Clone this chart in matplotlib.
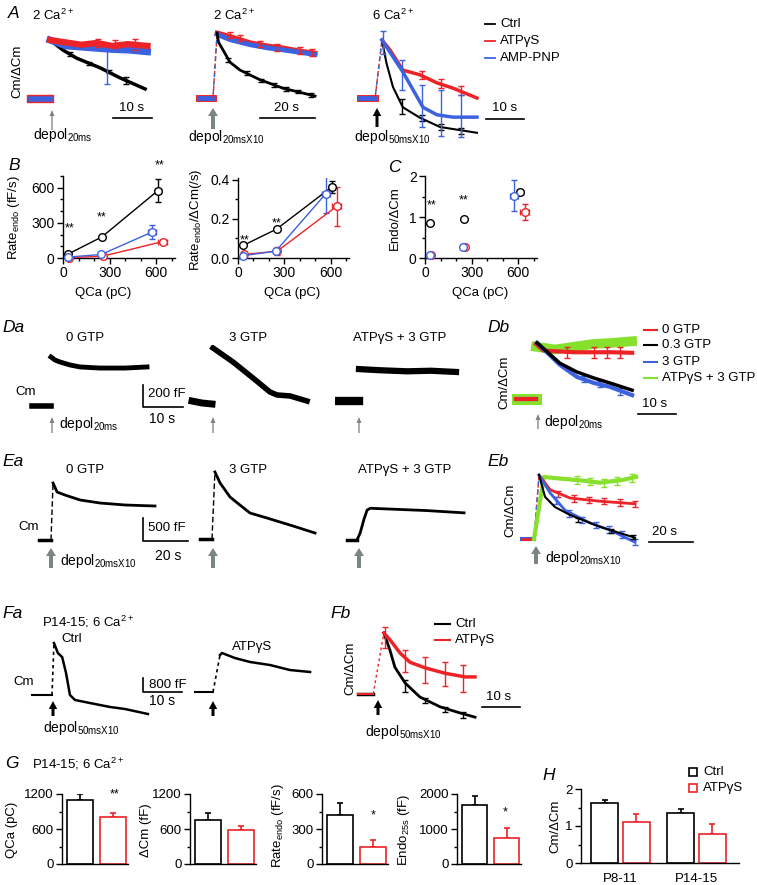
import matplotlib
matplotlib.use('Agg')
import matplotlib.pyplot as plt
from matplotlib.patches import Rectangle
from matplotlib.ticker import MultipleLocator

plt.rcParams['font.family'] = ['Liberation Sans', 'DejaVu Sans']
plt.rcParams['mathtext.default'] = 'regular'
plt.rcParams['font.size'] = 9.5
plt.rcParams['axes.linewidth'] = 1.0

W, H = 757, 885
RED = '#ec2327'
BLUE = '#3d62e0'
GREEN = '#86e02c'
GRAY = '#7b8584'

# ---------------- data (time in s, Cm in fF or normalised Cm/dCm) ----------------
# A1: 2 Ca, depol 20 ms
a1_t_ctrl = [0, 3.3, 6.9, 12.8, 17.9, 24.4]
a1_v_ctrl = [1.0, 0.83, 0.69, 0.53, 0.36, 0.17]
a1_t_atp = [0, 4, 8, 12, 16, 20, 25]
a1_v_atp = [1.0, 0.96, 0.92, 0.95, 0.9, 0.93, 0.9]
a1_t_amp = [0, 4, 8, 12, 16, 20, 25]
a1_v_amp = [1.0, 0.9, 0.88, 0.86, 0.84, 0.83, 0.8]
a1_err_ctrl = ([5, 10, 15, 19.5], [0.76, 0.6, 0.47, 0.32], [0.03, 0.03, 0.03, 0.06])
a1_err_atp = ([12.3, 16.7, 21.8], [0.95, 0.93, 0.92], [0.07, 0.07, 0.09])
a1_err_amp = ([14.6], [0.85], [0.6])

# A2: 2 Ca, depol 20 ms x10
a2_t_ctrl = [1.5, 2.0, 6.2, 9.8, 17.1, 25.5, 37.1]
a2_v_ctrl = [1.0, 0.86, 0.55, 0.43, 0.28, 0.15, 0.03]
a2_t_atp = [1.5, 6, 13.5, 20, 25.5, 32, 37.1]
a2_v_atp = [1.0, 0.95, 0.85, 0.8, 0.77, 0.72, 0.69]
a2_t_amp = [1.5, 6, 13.5, 20, 25.5, 32, 37.1]
a2_v_amp = [0.98, 0.9, 0.82, 0.77, 0.74, 0.7, 0.67]
a2_err_ctrl = ([5.5, 12.4, 17.5, 22.2, 26.5, 30.9, 35.6],
               [0.58, 0.38, 0.27, 0.2, 0.14, 0.1, 0.05], [0.03] * 7)
a2_err_atp = ([6.2, 9.8, 17.1, 23.3, 31.6, 36],
              [0.97, 0.92, 0.83, 0.78, 0.73, 0.7], [0.05] * 6)

# A3: 6 Ca, depol 50 ms x10
a3_t_ctrl = [1.3, 2.5, 4.2, 6.8, 11.3, 16.6, 26.3]
a3_v_ctrl = [1.0, 0.6, 0.19, -0.16, -0.34, -0.5, -0.6]
a3_t_atp = [1.3, 3.4, 6.8, 11.3, 15.8, 20, 26.3]
a3_v_atp = [1.0, 0.83, 0.48, 0.40, 0.26, 0.17, 0.0]
a3_t_amp = [1.3, 4.2, 6.8, 9.5, 12.1, 15.8, 20, 26.3]
a3_v_amp = [1.0, 0.71, 0.45, 0.14, -0.16, -0.29, -0.33, -0.33]
a3_err_ctrl = ([6.6, 11.8, 16.8, 22], [-0.14, -0.34, -0.5, -0.57], [0.13, 0.05, 0.05, 0.05])
a3_err_atp = ([11.8, 16.8, 22], [0.4, 0.25, 0.13], [0.07, 0.07, 0.07])
a3_err_amp = ([1.6, 6.6, 11.8, 16.8, 22], [0.95, 0.4, -0.14, -0.26, -0.31],
              [0.2, 0.26, 0.36, 0.4, 0.36])

# B / C: summary vs QCa (pC)
qca_ctrl = [35, 250, 610]
qca_atp = [40, 255, 640]
qca_amp = [35, 245, 570]
qca_xerr_ctrl = [0, 0, 20]
qca_xerr_atp = [0, 10, 30]
qca_xerr_amp = [0, 0, 25]
rate_ctrl = [35, 180, 575]
rate_atp = [3, 15, 140]
rate_amp = [8, 30, 220]
rate_err_ctrl = [0, 0, 100]
rate_err_atp = [0, 0, 15]
rate_err_amp = [0, 0, 60]
nrate_ctrl = [0.065, 0.148, 0.365]
nrate_atp = [0.018, 0.035, 0.265]
nrate_amp = [0.012, 0.035, 0.33]
nrate_err_ctrl = [0, 0, 0.03]
nrate_err_atp = [0, 0.02, 0.1]
nrate_err_amp = [0, 0, 0.1]
endo_ctrl = [0.85, 0.95, 1.62]
endo_atp = [0.07, 0.27, 1.12]
endo_amp = [0.07, 0.27, 1.52]
endo_err_ctrl = [0, 0, 0]
endo_err_atp = [0, 0, 0.2]
endo_err_amp = [0, 0, 0.38]

# Da: depol 20 ms, Cm in fF
da1_t = [0, 1, 2.25, 4.75, 7.25, 12.25, 18.5, 24]
da1_v = [445, 418, 400, 373, 355, 345, 345, 355]
da2_base_t = [-5, -2.5, 0]
da2_base_v = [18, 0, -9]
da2_t = [0.25, 5.25, 10.25, 14.5, 16.25, 19.5, 23.75]
da2_v = [500, 373, 227, 100, 73, 64, 18]
da3_t = [0, 5, 12, 18, 24.25]
da3_v = [290, 280, 270, 275, 264]

# Db: normalised
db_t_0gtp = [0, 2, 10, 20, 25.3]
db_v_0gtp = [1.0, 0.88, 0.85, 0.85, 0.84]
db_t_03gtp = [0.3, 6.3, 10.8, 15.3, 19.5, 25.3]
db_v_03gtp = [1.02, 0.65, 0.49, 0.38, 0.29, 0.16]
db_t_3gtp = [0.3, 6.3, 10.8, 15.3, 19.5, 25.3]
db_v_3gtp = [1.02, 0.62, 0.4, 0.29, 0.22, 0.07]
db_t_atp = [0, 5, 10, 15, 20, 25.3]
db_v_atp = [0.95, 0.9, 0.95, 1.0, 1.02, 1.05]
db_err_0gtp = ([8.2, 15.3, 18.7, 22.1], [0.85, 0.85, 0.85, 0.84], [0.1] * 4)
db_err_3gtp = ([12.6, 16.8, 22.1], [0.36, 0.27, 0.14], [0.06] * 3)

# Ea: depol 20 ms x10, Cm in fF
ea1_t = [0.9, 2.7, 6.2, 12.9, 21.8, 32.9, 46.2]
ea1_v = [1239, 1043, 978, 870, 804, 761, 739]
ea2_t = [1.3, 3.6, 8, 12.4, 16.9, 24.4, 36, 45.8]
ea2_v = [1457, 1217, 913, 739, 565, 457, 283, 130]
ea3_t = [-0.9, 0.5, 2.2, 3.6, 5, 15, 30, 46.7]
ea3_v = [0, 150, 450, 650, 690, 670, 640, 590]

# Eb: normalised
eb_t_0gtp = [2.3, 7.3, 16.4, 30, 45.9]
eb_v_0gtp = [1.0, 0.77, 0.64, 0.59, 0.55]
eb_t_03gtp = [2.3, 5, 9.5, 16.4, 30, 45.9]
eb_v_03gtp = [1.0, 0.66, 0.5, 0.375, 0.19, 0.02]
eb_t_3gtp = [2.3, 7.3, 14.1, 25.5, 34.5, 45.9]
eb_v_3gtp = [1.0, 0.72, 0.45, 0.25, 0.14, -0.05]
eb_t_atp = [0, 4.5, 10, 20, 30, 40, 46.4]
eb_v_atp = [0, 0.97, 0.95, 0.92, 0.88, 0.92, 0.97]
eb_err_0gtp = ([11, 18, 25, 32, 39, 45.9], [0.7, 0.63, 0.61, 0.59, 0.57, 0.55], [0.05] * 6)
eb_err_03gtp = ([20, 35, 45], [0.3, 0.12, 0.03], [0.03] * 3)
eb_err_3gtp = ([10, 16, 22, 28, 34, 40, 45.9], [0.6, 0.4, 0.3, 0.22, 0.15, 0.07, -0.05], [0.05] * 7)
eb_err_atp = ([19.5, 25.5, 31.8, 37.7, 44.5], [0.92, 0.9, 0.88, 0.91, 0.95], [0.06] * 5)

# Fa: P14-15, 6 Ca, depol 50 ms x10, Cm in fF
fa1_t = [0.5, 1.5, 2.6, 3.6, 4.6, 5.9, 9.7, 14.9, 18.7, 24.6]
fa1_v = [2971, 2400, 2171, 1257, 0, -286, -457, -686, -800, -1086]
fa2_t = [1.8, 2.3, 5.6, 9.5, 14.6, 19.7, 24.9]
fa2_v = [2114, 2229, 1943, 1714, 1543, 1257, 1143]

# Fb: normalised
fb_t_ctrl = [1.8, 3.4, 4.7, 7.4, 11.3, 16.6, 21.8, 25.8]
fb_v_ctrl = [1.0, 0.72, 0.44, 0.18, -0.05, -0.21, -0.31, -0.38]
fb_t_atp = [1.8, 3.4, 6.1, 8.7, 12.6, 17.9, 23.2, 25.8]
fb_v_atp = [1.0, 0.89, 0.67, 0.52, 0.43, 0.34, 0.28, 0.28]
fb_err_ctrl = ([7.4, 12.6, 17.9, 22.6], [0.13, -0.1, -0.25, -0.35], [0.1, 0.04, 0.04, 0.05])
fb_err_atp = ([2, 7.4, 12.6, 17.9, 22.6], [0.93, 0.54, 0.39, 0.33, 0.26], [0.17, 0.18, 0.21, 0.2, 0.22])

# G / H bars: [Ctrl, ATPgS]
g_qca = [1100, 810]
g_qca_err = [100, 60]
g_dcm = [760, 590]
g_dcm_err = [110, 60]
g_rate = [420, 150]
g_rate_err = [100, 55]
g_endo = [1700, 750]
g_endo_err = [250, 270]
h_groups = ['P8-11', 'P14-15']
h_ctrl = [1.62, 1.35]
h_ctrl_err = [0.08, 0.1]
h_atp = [1.1, 0.78]
h_atp_err = [0.22, 0.27]

# ---------------- figure helpers ----------------
fig = plt.figure(figsize=(W / 100, H / 100), dpi=100)
ov = fig.add_axes([0, 0, 1, 1], zorder=5)
ov.set_xlim(0, W)
ov.set_ylim(H, 0)
ov.axis('off')


def px_axes(l, t, w, h):
    return fig.add_axes([l / W, 1 - (t + h) / H, w / W, h / H])


def trace_axes(box, origin, sx, sy):
    l, t, w, h = box
    ox, oy = origin
    ax = px_axes(l, t, w, h)
    ax.set_xlim((l - ox) / sx, (l + w - ox) / sx)
    ax.set_ylim((oy - t - h) / sy, (oy - t) / sy)
    ax.axis('off')
    return ax


def txt(x, y, s, size=9.5, ha='left', va='center', **kw):
    ov.text(x, y, s, fontsize=size, ha=ha, va=va, **kw)


def label(x, y, s):
    txt(x, y, s, size=12.5, style='italic')


def arrow(x, y0, y1, kind):
    if kind == 'thin':
        ov.arrow(x, y0, 0, y1 - y0, width=1.3, head_width=5, head_length=6,
                 length_includes_head=True, color=GRAY, lw=0)
    elif kind == 'gray':
        ov.arrow(x, y0, 0, y1 - y0, width=4, head_width=10, head_length=8,
                 length_includes_head=True, color=GRAY, lw=0)
    else:
        ov.arrow(x, y0, 0, y1 - y0, width=3, head_width=8.5, head_length=8,
                 length_includes_head=True, color='black', lw=0)


def hbar(x0, x1, y):
    ov.plot([x0, x1], [y, y], color='black', lw=1.2)


def lbar(x, y0, y1, x1):
    ov.plot([x, x, x1], [y0, y1, y1], color='black', lw=1.2)


def errs(ax, e, c, down=False):
    yerr = [e[2], [0] * len(e[2])] if down else e[2]
    ax.errorbar(e[0], e[1], yerr=yerr, fmt='none', ecolor=c, elinewidth=1,
                capsize=2, capthick=1)


def style_ax(ax, size=10):
    for s in ['top', 'right']:
        ax.spines[s].set_visible(False)
    ax.tick_params(direction='out', length=4, width=1, labelsize=size, pad=2)
    ax.tick_params(which='minor', direction='out', length=2.5, width=1)


# ---------------- A ----------------
label(8, 14, 'A')
txt(17, 71, 'Cm/ΔCm', rotation=90, ha='center')

ax = trace_axes((25, 25, 135, 85), (50, 99), 3.9, 59)
ax.plot([-5, 0], [0, 0], color=RED, lw=6)
ax.plot([-5, 0], [0, 0], color=BLUE, lw=4)
ax.plot(a1_t_ctrl, a1_v_ctrl, color='black', lw=2.5)
errs(ax, a1_err_ctrl, 'black')
ax.plot(a1_t_amp, a1_v_amp, color=BLUE, lw=5)
errs(ax, a1_err_amp, BLUE, down=True)
ax.plot(a1_t_atp, a1_v_atp, color=RED, lw=4.5)
errs(ax, a1_err_atp, RED)
txt(32, 15, '2 Ca$^{2+}$')
arrow(52, 130, 110, 'thin')
txt(33, 135, 'depol$_{20ms}$', size=10)
hbar(113, 152, 118)
txt(132, 108, '10 s', ha='center')

ax = trace_axes((195, 25, 125, 85), (213, 98), 2.75, 65)
ax.plot([-5, 0], [0, 0], color=RED, lw=5)
ax.plot([-5, 0], [0, 0], color=BLUE, lw=3.5)
ax.plot([0, 1.5], [0, 1.0], color=RED, lw=1, ls='--')
ax.plot([0, 1.5], [0, 1.0], color=BLUE, lw=1, ls=(3, (3, 3)))
ax.plot(a2_t_atp, a2_v_atp, color=RED, lw=3.5)
ax.plot(a2_t_amp, a2_v_amp, color=BLUE, lw=3.5)
errs(ax, a2_err_atp, RED)
ax.plot(a2_t_ctrl, a2_v_ctrl, color='black', lw=2)
errs(ax, a2_err_ctrl, 'black')
txt(213, 15, '2 Ca$^{2+}$')
arrow(213, 129, 108, 'gray')
txt(188, 137, 'depol$_{20msX10}$', size=10)
hbar(260, 315, 118)
txt(287, 108, '20 s', ha='center')

ax = trace_axes((355, 25, 125, 120), (377, 98), 3.8, 58)
ax.plot([-4.5, -0.5], [0, 0], color=RED, lw=5)
ax.plot([-4.5, -0.5], [0, 0], color=BLUE, lw=3.5)
ax.plot([-0.5, 1.3], [0, 1.0], color=RED, lw=1, ls='--')
ax.plot([-0.5, 1.3], [0, 1.0], color=BLUE, lw=1, ls=(3, (3, 3)))
ax.plot(a3_t_ctrl, a3_v_ctrl, color='black', lw=1.5)
errs(ax, a3_err_ctrl, 'black')
ax.plot(a3_t_atp, a3_v_atp, color=RED, lw=2.5)
errs(ax, a3_err_atp, RED)
ax.plot(a3_t_amp, a3_v_amp, color=BLUE, lw=2.5)
errs(ax, a3_err_amp, BLUE)
txt(372, 15, '6 Ca$^{2+}$')
arrow(377, 127, 108, 'black')
txt(354, 137, 'depol$_{50msX10}$', size=10)
hbar(486, 524, 119)
txt(505, 108, '10 s', ha='center')

for yy, c, s in [(24, 'black', 'Ctrl'), (41, RED, 'ATPγS'), (58, BLUE, 'AMP-PNP')]:
    ov.plot([485, 495], [yy, yy], color=c, lw=1.3)
    txt(500, yy, s)

# ---------------- B ----------------
label(8, 166, 'B')
label(388, 168, 'C')


def summary(ax, xs, ys, xe, ye, c, line=True):
    for x, y, a, b in zip(xs, ys, xe, ye):
        if a or b:
            ax.errorbar(x, y, xerr=a or None, yerr=b or None, fmt='none', ecolor=c,
                        elinewidth=1, capsize=2, capthick=1, zorder=2)
    ax.plot(xs, ys, '-o' if line else 'o', color=c, mfc='white', mec=c, ms=5.5,
            mew=1, lw=1, zorder=3, clip_on=False)


ax = px_axes(63, 176, 112, 82)
summary(ax, qca_ctrl, rate_ctrl, qca_xerr_ctrl, rate_err_ctrl, 'black')
summary(ax, qca_atp, rate_atp, qca_xerr_atp, rate_err_atp, RED)
summary(ax, qca_amp, rate_amp, qca_xerr_amp, rate_err_amp, BLUE)
ax.set_xlim(0, 720)
ax.set_ylim(0, 700)
ax.set_xticks([0, 300, 600])
ax.set_yticks([0, 300, 600])
ax.xaxis.set_minor_locator(MultipleLocator(100))
ax.yaxis.set_minor_locator(MultipleLocator(100))
style_ax(ax)
for x, y in [(40, 255), (250, 350), (620, 790)]:
    ax.text(x, y, '**', ha='center', va='center', fontsize=9, clip_on=False)
txt(14, 218, 'Rate$_{endo}$ (fF/s)', rotation=90, ha='center')
txt(103, 293, 'QCa (pC)', ha='center')

ax = px_axes(238, 178, 111, 80)
summary(ax, qca_ctrl, nrate_ctrl, qca_xerr_ctrl, nrate_err_ctrl, 'black')
summary(ax, qca_atp, nrate_atp, qca_xerr_atp, nrate_err_atp, RED)
summary(ax, qca_amp, nrate_amp, qca_xerr_amp, nrate_err_amp, BLUE)
ax.set_xlim(0, 720)
ax.set_ylim(0, 0.41)
ax.set_xticks([0, 300, 600])
ax.set_yticks([0, 0.2, 0.4])
ax.set_yticklabels(['0.0', '0.2', '0.4'])
ax.xaxis.set_minor_locator(MultipleLocator(100))
ax.yaxis.set_minor_locator(MultipleLocator(0.1))
style_ax(ax)
for x, y in [(40, 0.09), (250, 0.175)]:
    ax.text(x, y, '**', ha='center', va='center', fontsize=9)
txt(196, 220, 'Rate$_{endo}$/ΔCm(/s)', rotation=90, ha='center')
txt(292, 293, 'QCa (pC)', ha='center')

ax = px_axes(425, 176, 112, 82)
summary(ax, qca_ctrl, endo_ctrl, qca_xerr_ctrl, endo_err_ctrl, 'black', False)
summary(ax, qca_atp, endo_atp, qca_xerr_atp, endo_err_atp, RED, False)
summary(ax, qca_amp, endo_amp, qca_xerr_amp, endo_err_amp, BLUE, False)
ax.set_xlim(0, 720)
ax.set_ylim(0, 2)
ax.set_xticks([0, 300, 600])
ax.set_yticks([0, 1, 2])
ax.xaxis.set_minor_locator(MultipleLocator(100))
ax.yaxis.set_minor_locator(MultipleLocator(0.5))
style_ax(ax)
for x, y in [(40, 1.28), (250, 1.4)]:
    ax.text(x, y, '**', ha='center', va='center', fontsize=9)
txt(395, 218, 'Endo/ΔCm', rotation=90, ha='center')
txt(480, 293, 'QCa (pC)', ha='center')

# ---------------- Da / Db ----------------
label(2, 327, 'Da')
for x, s in [(85, '0 GTP'), (248, '3 GTP'), (400, 'ATPγS + 3 GTP')]:
    txt(x, 338, s, ha='center')
txt(15, 392, 'Cm', size=9.5)

ax = trace_axes((28, 345, 125, 70), (51, 406), 4.0, 0.11)
ax.plot([-4.75, 0], [0, 0], color='black', lw=4)
ax.plot(da1_t, da1_v, color='black', lw=3.5)
ax = trace_axes((188, 345, 125, 70), (212, 403), 4.0, 0.11)
ax.plot(da2_base_t, da2_base_v, color='black', lw=5)
ax.plot(da2_t, da2_v, color='black', lw=4)
ax = trace_axes((335, 345, 125, 70), (359, 401), 4.0, 0.11)
ax.plot([-5, 0], [0, 0], color='black', lw=6)
ax.plot(da3_t, da3_v, color='black', lw=4.5)
for x in [52, 213, 359]:
    arrow(x, 433, 417, 'thin')
txt(59, 424, 'depol$_{20ms}$', size=10)
lbar(143, 385, 407, 183)
txt(148, 394, '200 fF')
txt(149, 419, '10 s', size=10)

label(487, 327, 'Db')
txt(504, 382, 'Cm/ΔCm', rotation=90, ha='center')
ax = trace_axes((512, 330, 125, 80), (536, 399), 3.8, 55)
ax.plot([-5.3, 0], [0, 0], color=GREEN, lw=8)
ax.plot([-5.3, 0], [0, 0], color=BLUE, lw=3)
ax.plot([-5.3, 0], [0, 0], color=RED, lw=3)
ax.plot(db_t_atp, db_v_atp, color=GREEN, lw=7)
ax.plot(db_t_0gtp, db_v_0gtp, color=RED, lw=3)
errs(ax, db_err_0gtp, RED)
ax.plot(db_t_3gtp, db_v_3gtp, color=BLUE, lw=3)
errs(ax, db_err_3gtp, BLUE)
ax.plot(db_t_03gtp, db_v_03gtp, color='black', lw=2.5)
arrow(538, 429, 414, 'thin')
txt(544, 422, 'depol$_{20ms}$', size=10)
hbar(638, 676, 414)
txt(655, 404, '10 s', ha='center')
for yy, c, s in [(330, RED, '0 GTP'), (345, 'black', '0.3 GTP'),
                 (362, BLUE, '3 GTP'), (378, GREEN, 'ATPγS + 3 GTP')]:
    ov.plot([644, 657], [yy, yy], color=c, lw=1.5)
    txt(662, yy, s)

# ---------------- Ea / Eb ----------------
label(2, 462, 'Ea')
for x, s in [(85, '0 GTP'), (248, '3 GTP'), (405, 'ATPγS + 3 GTP')]:
    txt(x, 470, s, ha='center')
txt(18, 527, 'Cm', size=9.5)

ax = trace_axes((35, 470, 125, 80), (51, 540), 2.25, 0.046)
ax.plot([-5.3, 0], [0, 0], color='black', lw=2.5)
ax.plot([0, ea1_t[0]], [0, ea1_v[0]], color='black', lw=1, ls=(0, (4, 2)))
ax.plot(ea1_t, ea1_v, color='black', lw=2)
ax = trace_axes((195, 465, 125, 85), (212, 539), 2.25, 0.046)
ax.plot([-5.3, 0], [0, 0], color='black', lw=2.5)
ax.plot([0, ea2_t[0]], [0, ea2_v[0]], color='black', lw=1, ls=(0, (4, 2)))
ax.plot(ea2_t, ea2_v, color='black', lw=2)
ax = trace_axes((343, 490, 125, 60), (359, 540), 2.25, 0.046)
ax.plot([-5.3, -0.9], [0, 0], color='black', lw=2.5)
ax.plot(ea3_t, ea3_v, color='black', lw=2)
for x in [51, 213, 359]:
    arrow(x, 568, 548, 'gray')
txt(60, 561, 'depol$_{20msX10}$', size=10)
lbar(143, 518, 541, 188)
txt(148, 528, '500 fF')
txt(155, 556, '20 s', size=10)

label(487, 462, 'Eb')
txt(510, 510, 'Cm/ΔCm', rotation=90, ha='center')
ax = trace_axes((518, 465, 122, 85), (534, 539), 2.2, 64)
ax.plot([-5.5, 0], [0, 0], color=BLUE, lw=3)
ax.plot([-5.5, 0], [0, 0], color=RED, lw=2)
for c, ls in [(RED, '--'), (BLUE, (3, (3, 3)))]:
    ax.plot([0, 2.3], [0, 1.0], color=c, lw=1, ls=ls)
ax.plot(eb_t_atp, eb_v_atp, color=GREEN, lw=3)
errs(ax, eb_err_atp, GREEN)
ax.plot(eb_t_0gtp, eb_v_0gtp, color=RED, lw=2)
errs(ax, eb_err_0gtp, RED)
ax.plot(eb_t_3gtp, eb_v_3gtp, color=BLUE, lw=2)
errs(ax, eb_err_3gtp, BLUE)
ax.plot(eb_t_03gtp, eb_v_03gtp, color='black', lw=1.5)
errs(ax, eb_err_03gtp, 'black')
arrow(536, 564, 546, 'gray')
txt(545, 558, 'depol$_{20msX10}$', size=10)
hbar(649, 693, 542)
txt(665, 532, '20 s', ha='center')

# ---------------- Fa / Fb ----------------
label(2, 613, 'Fa')
txt(42, 622, 'P14-15; 6 Ca$^{2+}$')
txt(72, 639, 'Ctrl', ha='center')
txt(252, 647, 'ATPγS', ha='center')
txt(13, 682, 'Cm', size=9.5)

ax = trace_axes((28, 630, 125, 90), (52, 695), 3.9, 0.0175)
ax.plot([-5.1, 0], [0, 0], color='black', lw=1.5)
ax.plot([0, fa1_t[0]], [0, fa1_v[0]], color='black', lw=1.2, ls=(0, (2, 2)))
ax.plot(fa1_t, fa1_v, color='black', lw=1.8)
ax = trace_axes((190, 640, 125, 60), (213, 692), 3.9, 0.0175)
ax.plot([-4.6, 0], [0, 0], color='black', lw=1.5)
ax.plot([0, fa2_t[0]], [0, fa2_v[0]], color='black', lw=1.2, ls=(0, (2, 2)))
ax.plot(fa2_t, fa2_v, color='black', lw=1.8)
for x in [53, 213]:
    arrow(x, 716, 701, 'black')
txt(43, 728, 'depol$_{50msX10}$', size=10)
lbar(143, 678, 692, 182)
txt(149, 685, '800 fF')
txt(149, 701, '10 s', size=10)

label(330, 613, 'Fb')
txt(350, 668, 'Cm/ΔCm', rotation=90, ha='center')
ax = trace_axes((355, 620, 125, 105), (377, 694), 3.8, 61)
ax.plot([-5, -1], [0, 0], color='black', lw=2.5)
ax.plot([-5, -1], [0, 0], color=RED, lw=1.5)
ax.plot([-1, 1.8], [0, 1.0], color=RED, lw=1, ls=(0, (2, 2)))
ax.plot(fb_t_ctrl, fb_v_ctrl, color='black', lw=2)
errs(ax, fb_err_ctrl, 'black')
ax.plot(fb_t_atp, fb_v_atp, color=RED, lw=2.5)
errs(ax, fb_err_atp, RED)
arrow(378, 715, 700, 'black')
txt(365, 732, 'depol$_{50msX10}$', size=10)
hbar(482, 520, 707)
txt(499, 697, '10 s', ha='center')
for yy, c, s in [(624, 'black', 'Ctrl'), (640, RED, 'ATPγS')]:
    ov.plot([435, 450], [yy, yy], color=c, lw=1.5)
    txt(455, yy, s)

# ---------------- G ----------------
label(5, 763, 'G')
txt(32, 764, 'P14-15; 6 Ca$^{2+}$')


def bars(l, w, vals, err, top, major, minor):
    ax = px_axes(l, 794, w, 70)
    for i, c in enumerate(['black', RED]):
        ax.bar(i, vals[i], width=0.8, color='white', edgecolor=c, lw=1.2, zorder=2)
        ax.errorbar(i, vals[i], yerr=[[0], [err[i]]], fmt='none', ecolor=c,
                    elinewidth=1.2, capsize=2.5, capthick=1.2, zorder=1)
    ax.set_xlim(-0.55, 1.45)
    ax.set_ylim(0, top)
    ax.set_xticks([])
    ax.set_yticks(major)
    ax.yaxis.set_minor_locator(MultipleLocator(minor))
    style_ax(ax, 9.5)
    return ax


bars(62, 66, g_qca, g_qca_err, 1200, [0, 600, 1200], 300)
bars(190, 66, g_dcm, g_dcm_err, 1200, [0, 600, 1200], 300)
bars(322, 66, g_rate, g_rate_err, 600, [0, 300, 600], 150)
bars(457, 64, g_endo, g_endo_err, 2000, [0, 1000, 2000], 500)
txt(115, 794, '**', size=9, ha='center')
txt(373, 815, '*', size=9, ha='center')
txt(505, 812, '*', size=9, ha='center')
txt(12, 830, 'QCa (pC)', rotation=90, ha='center')
txt(146, 830, 'ΔCm (fF)', rotation=90, ha='center')
txt(278, 826, 'Rate$_{endo}$ (fF/s)', rotation=90, ha='center')
txt(404, 830, 'Endo$_{25s}$ (fF)', rotation=90, ha='center')

# ---------------- H ----------------
label(542, 775, 'H')
ax = px_axes(581, 789, 158, 74)
for vals, err, off, c in [(h_ctrl, h_ctrl_err, -0.21, 'black'), (h_atp, h_atp_err, 0.21, RED)]:
    pos = [i + off for i in range(len(h_groups))]
    ax.bar(pos, vals, width=0.36, color='white', edgecolor=c, lw=1.2, zorder=2)
    ax.errorbar(pos, vals, yerr=[[0] * len(vals), err], fmt='none', ecolor=c,
                elinewidth=1.2, capsize=2.5, capthick=1.2, zorder=1)
ax.set_xlim(-0.52, 1.56)
ax.set_ylim(0, 2)
ax.set_yticks([0, 1, 2])
ax.yaxis.set_minor_locator(MultipleLocator(0.5))
style_ax(ax, 9.5)
ax.set_xticks(range(len(h_groups)))
ax.set_xticklabels(h_groups)
ax.tick_params(axis='x', length=0, pad=7)
txt(555, 826, 'Cm/ΔCm', rotation=90, ha='center')
for yy, c, s in [(772, 'black', 'Ctrl'), (788, RED, 'ATPγS')]:
    ov.add_patch(Rectangle((689, yy - 4), 8, 8, fc='white', ec=c, lw=1.2))
    txt(703, yy, s)

fig.savefig('out.png', dpi=100)
